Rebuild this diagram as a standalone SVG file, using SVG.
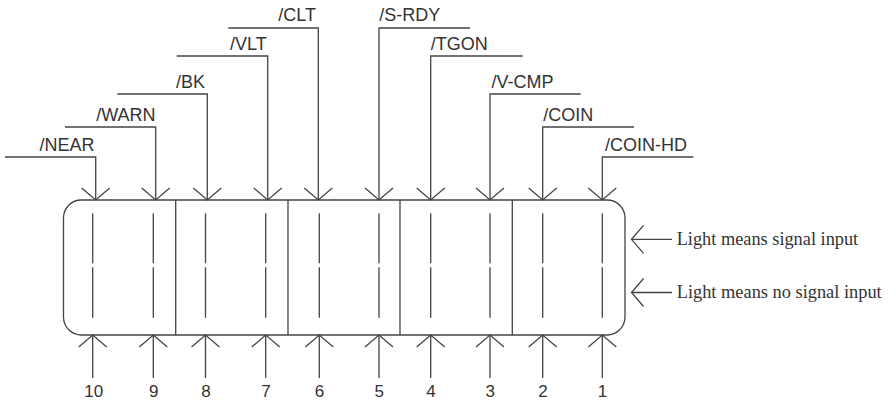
<svg xmlns="http://www.w3.org/2000/svg" width="892" height="400" viewBox="0 0 892 400">
<style>
.ln{fill:none;stroke:#444;stroke-width:1.3}
.lbl{font-family:"Liberation Sans",Arial,sans-serif;font-size:18px;fill:#333}
.lbl.e{text-anchor:end}
.num{font-family:"Liberation Sans",Arial,sans-serif;font-size:17px;fill:#333;text-anchor:middle}
.note{font-family:"Liberation Serif","Times New Roman",serif;font-size:18.5px;fill:#333}
</style>
<defs>
<marker id="ah" markerUnits="userSpaceOnUse" viewBox="-14 -15 16 30" refX="0" refY="0" markerWidth="16" markerHeight="30" orient="auto" overflow="visible">
<path d="M-12,-14 L0,0 L-12,14" fill="none" stroke="#444" stroke-width="1.3"/>
</marker>
<path id="seg" d="M0,213.3 V263.3 M0,267.3 V317.7" class="ln"/>
</defs>
<rect width="892" height="400" fill="#fff"/>

<g id="display">
<rect x="63.5" y="200" width="561.5" height="135" rx="18" ry="18" class="ln"/>
<path d="M175.7,200 V335 M288,200 V335 M400,200 V335 M512.3,200 V335" class="ln"/>
</g>
<g id="led-10"><use href="#seg" x="92.7"/></g>
<g id="led-9"><use href="#seg" x="153.3"/></g>
<g id="led-8"><use href="#seg" x="205.5"/></g>
<g id="led-7"><use href="#seg" x="265.7"/></g>
<g id="led-6"><use href="#seg" x="319.3"/></g>
<g id="led-5"><use href="#seg" x="379"/></g>
<g id="led-4"><use href="#seg" x="430.7"/></g>
<g id="led-3"><use href="#seg" x="490"/></g>
<g id="led-2"><use href="#seg" x="542.7"/></g>
<g id="led-1"><use href="#seg" x="602.3"/></g>

<g id="connectors" class="ln" marker-end="url(#ah)">
<path d="M5,157 H95.7 V200"/>
<path d="M65,127 H155.7 V200"/>
<path d="M117.3,94 H207.3 V200"/>
<path d="M176.7,56 H267.7 V200"/>
<path d="M228.3,28 H318.3 V200"/>
<path d="M470,28 H379 V200"/>
<path d="M522.7,56 H430.7 V200"/>
<path d="M580.7,94 H490 V200"/>
<path d="M634,127 H542.7 V200"/>
<path d="M693.3,157 H602.3 V200"/>
<path d="M92.7,378 V335"/>
<path d="M153.3,378 V335"/>
<path d="M205.5,378 V335"/>
<path d="M265.7,378 V335"/>
<path d="M319.3,378 V335"/>
<path d="M379,378 V335"/>
<path d="M430.7,378 V335"/>
<path d="M490,378 V335"/>
<path d="M542.7,378 V335"/>
<path d="M602.3,378 V335"/>
<path d="M672,239.3 H631.5"/>
<path d="M672,292.5 H631.5"/>
</g>

<g id="labels">
<text class="lbl e" x="94.5" y="151">/NEAR</text>
<text class="lbl e" x="155.5" y="121">/WARN</text>
<text class="lbl e" x="205" y="88">/BK</text>
<text class="lbl e" x="266.7" y="50">/VLT</text>
<text class="lbl e" x="316" y="21">/CLT</text>
<text class="lbl" x="379.3" y="21">/S-RDY</text>
<text class="lbl" x="430.7" y="50">/TGON</text>
<text class="lbl" x="491.5" y="88">/V-CMP</text>
<text class="lbl" x="543.3" y="121">/COIN</text>
<text class="lbl" x="605" y="151">/COIN-HD</text>
<text class="num" x="93.7" y="397">10</text>
<text class="num" x="153.8" y="397">9</text>
<text class="num" x="206" y="397">8</text>
<text class="num" x="266" y="397">7</text>
<text class="num" x="319.5" y="397">6</text>
<text class="num" x="379.3" y="397">5</text>
<text class="num" x="431" y="397">4</text>
<text class="num" x="490.3" y="397">3</text>
<text class="num" x="543" y="397">2</text>
<text class="num" x="602.5" y="397">1</text>
<text class="note" x="676.7" y="245" textLength="181.5" lengthAdjust="spacingAndGlyphs">Light means signal input</text>
<text class="note" x="676.7" y="298" textLength="205" lengthAdjust="spacingAndGlyphs">Light means no signal input</text>
</g>
</svg>
